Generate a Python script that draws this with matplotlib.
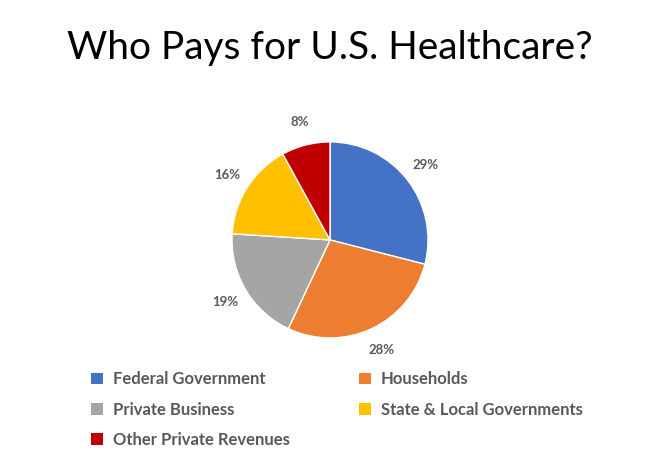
import matplotlib.pyplot as plt
from matplotlib.patches import Patch

labels = ["Federal Government", "Households", "Private Business",
          "State & Local Governments", "Other Private Revenues"]
shares = [29, 28, 19, 16, 8]
colors = ["#4472C4", "#ED7D31", "#A5A5A5", "#FFC000", "#C00000"]

plt.rcParams['font.family'] = ['Lato', 'DejaVu Sans']

fig = plt.figure(figsize=(6.6, 4.57), dpi=100)
fig.text(0.5, 0.895, "Who Pays for U.S. Healthcare?", ha='center', va='center',
         fontsize=28, color='black')

ax = fig.add_axes([0.5 - 0.1485, 0.475 - 0.2145, 0.297, 0.429])
ax.pie(shares, colors=colors, startangle=90, counterclock=False,
       autopct='%d%%', pctdistance=1.24,
       wedgeprops=dict(edgecolor='white', linewidth=1),
       textprops=dict(color='#595959', fontsize=9.5, fontweight='bold'))
ax.set_aspect('equal')
ax.set_xlim(-1, 1)
ax.set_ylim(-1, 1)

order = [0, 2, 4, 1, 3]
handles = [Patch(facecolor=colors[i], label=labels[i]) for i in order]
fig.legend(handles=handles, ncol=2, loc='upper left', bbox_to_anchor=(0.115, 0.22),
           frameon=False, handlelength=0.7, handleheight=0.7,
           columnspacing=4.2, labelspacing=0.85, handletextpad=0.6,
           prop=dict(weight='bold', size=12))
for t in fig.legends[0].get_texts():
    t.set_color('#595959')

fig.savefig("out.png", dpi=100)
